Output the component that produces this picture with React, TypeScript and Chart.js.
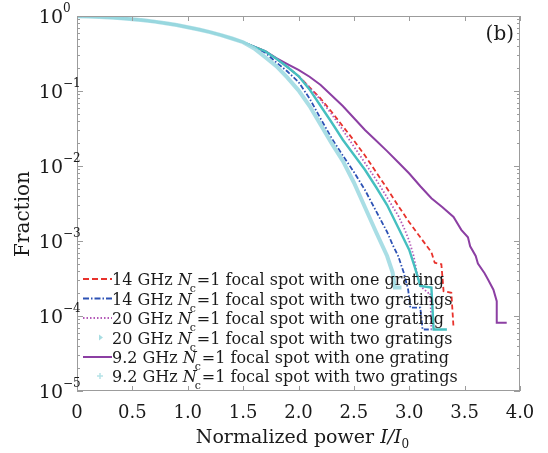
import React, { useEffect, useRef } from "react";
import { Chart, registerables } from "chart.js";
Chart.register(...registerables);

// ---- data (fraction vs normalized power) ----
const commonX = [0, 0.1, 0.2, 0.3, 0.4, 0.5, 0.6, 0.7, 0.8, 0.9, 1.0, 1.1, 1.2, 1.3, 1.4, 1.5];
const commonY = [0.989, 0.984, 0.973, 0.955, 0.933, 0.908, 0.879, 0.841, 0.8, 0.759, 0.708, 0.661, 0.61, 0.556, 0.501, 0.447];

const red14OneX = [1.6, 1.7, 1.8, 1.9, 2.0, 2.1, 2.2, 2.3, 2.4, 2.5, 2.6, 2.7, 2.8, 2.9, 3.0, 3.1, 3.15, 3.2, 3.23, 3.29, 3.31, 3.38, 3.4];
const red14OneY = [0.389, 0.339, 0.269, 0.209, 0.158, 0.112, 0.0794, 0.0525, 0.0339, 0.0219, 0.0138, 0.00832, 0.00501, 0.00295, 0.00178, 0.00112, 0.000891, 0.000708, 0.000513, 0.00049, 0.000214, 0.000204, 0.0000692];

const blue14TwoX = [1.6, 1.7, 1.8, 1.9, 2.0, 2.1, 2.2, 2.3, 2.4, 2.5, 2.6, 2.7, 2.8, 2.85, 2.9, 2.95, 2.99, 3.01, 3.1, 3.12, 3.2];
const blue14TwoY = [0.389, 0.324, 0.24, 0.182, 0.132, 0.0794, 0.0427, 0.0234, 0.0138, 0.00832, 0.00479, 0.00251, 0.00132, 0.000891, 0.000631, 0.00038, 0.000224, 0.000129, 0.000129, 0.0000661, 0.0000661];

const mag20OneX = [1.6, 1.7, 1.8, 1.9, 2.0, 2.1, 2.2, 2.3, 2.4, 2.5, 2.6, 2.7, 2.8, 2.9, 2.96, 3.0, 3.04, 3.07, 3.1, 3.17, 3.19, 3.2];
const mag20OneY = [0.389, 0.339, 0.269, 0.209, 0.158, 0.112, 0.0759, 0.049, 0.0302, 0.0182, 0.011, 0.00661, 0.0038, 0.00219, 0.00141, 0.001, 0.000631, 0.000372, 0.000251, 0.000204, 0.000204, 0.0000661];

const teal20TwoX = [1.6, 1.7, 1.8, 1.9, 2.0, 2.1, 2.2, 2.3, 2.4, 2.5, 2.6, 2.7, 2.8, 2.9, 3.0, 3.05, 3.1, 3.2, 3.22, 3.34];
const teal20TwoY = [0.389, 0.339, 0.269, 0.209, 0.158, 0.105, 0.0631, 0.038, 0.0224, 0.0141, 0.00891, 0.00525, 0.00302, 0.00151, 0.000759, 0.000447, 0.000251, 0.00024, 0.0000661, 0.0000661];

const purple92OneX = [1.6, 1.7, 1.8, 1.9, 2.0, 2.1, 2.2, 2.3, 2.4, 2.5, 2.6, 2.7, 2.8, 2.9, 3.0, 3.1, 3.2, 3.3, 3.4, 3.47, 3.53, 3.55, 3.6, 3.62, 3.68, 3.71, 3.76, 3.79, 3.79, 3.88];
const purple92OneY = [0.389, 0.339, 0.275, 0.229, 0.191, 0.155, 0.12, 0.0871, 0.0631, 0.0437, 0.0302, 0.0219, 0.0158, 0.0112, 0.00794, 0.00537, 0.00372, 0.00282, 0.00209, 0.00141, 0.00112, 0.000851, 0.000631, 0.000501, 0.000372, 0.000309, 0.000224, 0.000158, 0.0000813, 0.0000813];

const cyan92TwoX = [1.6, 1.7, 1.8, 1.9, 2.0, 2.1, 2.2, 2.3, 2.4, 2.5, 2.6, 2.7, 2.8, 2.85, 2.87, 2.93];
const cyan92TwoY = [0.37, 0.282, 0.214, 0.151, 0.102, 0.0631, 0.0355, 0.02, 0.0117, 0.00603, 0.00282, 0.00132, 0.000631, 0.00038, 0.00024, 0.00024];

const xTickValues = [0, 0.5, 1.0, 1.5, 2.0, 2.5, 3.0, 3.5, 4.0];
const xTickLabels = ["0", "0.5", "1.0", "1.5", "2.0", "2.5", "3.0", "3.5", "4.0"];
const yTickExponents = [0, -1, -2, -3, -4, -5];

const legendLabels = [
  ["14 GHz ", " =1 focal spot with one grating"],
  ["14 GHz ", " =1 focal spot with two gratings"],
  ["20 GHz ", " =1 focal spot with one grating"],
  ["20 GHz ", " =1 focal spot with two gratings"],
  ["9.2 GHz ", " =1 focal spot with one grating"],
  ["9.2 GHz ", " =1 focal spot with two gratings"],
];

const SERIF = '"DejaVu Serif", "Liberation Serif", serif';

function pts(xs: number[], ys: number[]) {
  const X = [...commonX, ...xs];
  const Y = [...commonY, ...ys];
  return X.map((x, i) => ({ x, y: Y[i] }));
}

const decorPlugin = {
  id: "decor",
  afterDatasetsDraw(chart: any) {
    const ctx = chart.ctx as CanvasRenderingContext2D;
    const xs = chart.scales.x;
    const ys = chart.scales.y;
    const a = chart.chartArea;
    ctx.save();
    // frame
    ctx.strokeStyle = "#9c9c9c";
    ctx.lineWidth = 1;
    ctx.strokeRect(a.left + 0.5, a.top + 0.5, a.right - a.left - 1, a.bottom - a.top - 1);
    // x ticks
    ctx.beginPath();
    for (const v of xTickValues) {
      const px = Math.round(xs.getPixelForValue(v)) + 0.5;
      ctx.moveTo(px, a.bottom);
      ctx.lineTo(px, a.bottom - 5);
      ctx.moveTo(px, a.top);
      ctx.lineTo(px, a.top + 5);
    }
    // y ticks
    for (let e = 0; e > -5; e--) {
      for (let m = 1; m <= 9; m++) {
        const val = m * Math.pow(10, e - 1);
        const py = Math.round(ys.getPixelForValue(val)) + 0.5;
        const len = m === 1 ? 6 : 3;
        ctx.moveTo(a.left, py);
        ctx.lineTo(a.left + len, py);
        ctx.moveTo(a.right, py);
        ctx.lineTo(a.right - len, py);
      }
    }
    ctx.stroke();

    ctx.fillStyle = "#1a1a1a";
    // x tick labels
    ctx.font = `18px ${SERIF}`;
    ctx.textAlign = "center";
    ctx.textBaseline = "middle";
    xTickValues.forEach((v, i) => {
      ctx.fillText(xTickLabels[i], xs.getPixelForValue(v), a.bottom + 22);
    });
    // y tick labels 10^e
    for (const e of yTickExponents) {
      const py = ys.getPixelForValue(Math.pow(10, e));
      ctx.font = `19px ${SERIF}`;
      ctx.textAlign = "right";
      ctx.textBaseline = "middle";
      ctx.fillText("10", a.left - 14, py + 2);
      ctx.font = `12px ${SERIF}`;
      ctx.textAlign = "left";
      ctx.fillText(e === 0 ? "0" : "\u2212" + String(-e), a.left - 14, py - 7);
    }
    // y title
    ctx.save();
    ctx.translate(24, 214);
    ctx.rotate(-Math.PI / 2);
    ctx.font = `20px ${SERIF}`;
    ctx.textAlign = "center";
    ctx.textBaseline = "middle";
    ctx.fillText("Fraction", 0, 0);
    ctx.restore();
    // x title
    {
      const y = 443;
      const f1 = `19px ${SERIF}`;
      const f2 = `italic 19px ${SERIF}`;
      const f3 = `12px ${SERIF}`;
      ctx.font = f1;
      const w1 = ctx.measureText("Normalized power ").width;
      ctx.font = f2;
      const w2 = ctx.measureText("I/I").width;
      ctx.font = f3;
      const w3 = ctx.measureText("0").width;
      let x = (a.left + a.right) / 2 + 4 - (w1 + w2 + w3) / 2;
      ctx.textAlign = "left";
      ctx.textBaseline = "alphabetic";
      ctx.font = f1;
      ctx.fillText("Normalized power ", x, y);
      x += w1;
      ctx.font = f2;
      ctx.fillText("I/I", x, y);
      x += w2;
      ctx.font = f3;
      ctx.fillText("0", x, y + 5);
    }
    // (b)
    ctx.font = `20px ${SERIF}`;
    ctx.textAlign = "right";
    ctx.textBaseline = "middle";
    ctx.fillText("(b)", a.right - 6, 35);

    // legend
    const rowY = [279, 298.5, 318, 337.5, 357, 376];
    const x0 = 83;
    const x1 = 112;
    const styles = [
      { color: "#e8322c", dash: [6, 3], width: 1.8, kind: "line" },
      { color: "#2d52b5", dash: [6, 2, 1.5, 2], width: 1.8, kind: "line" },
      { color: "#b45ab8", dash: [1.5, 2], width: 1.8, kind: "line" },
      { color: "#a8dde2", dash: [], width: 1.5, kind: "tri" },
      { color: "#8c3fa3", dash: [], width: 2, kind: "line" },
      { color: "#b6e3e8", dash: [], width: 1.5, kind: "plus" },
    ];
    styles.forEach((s, i) => {
      const y = rowY[i];
      ctx.save();
      ctx.strokeStyle = s.color;
      ctx.fillStyle = s.color;
      ctx.lineWidth = s.width;
      ctx.setLineDash(s.dash);
      if (s.kind === "line") {
        ctx.beginPath();
        ctx.moveTo(x0, y);
        ctx.lineTo(x1, y);
        ctx.stroke();
      } else if (s.kind === "tri") {
        ctx.beginPath();
        ctx.moveTo(99, y - 3);
        ctx.lineTo(103, y);
        ctx.lineTo(99, y + 3);
        ctx.closePath();
        ctx.fill();
      } else {
        ctx.beginPath();
        ctx.moveTo(97, y);
        ctx.lineTo(103, y);
        ctx.moveTo(100, y - 3);
        ctx.lineTo(100, y + 3);
        ctx.stroke();
      }
      ctx.restore();
      // text
      const [pre, post] = legendLabels[i];
      const fN = `16px ${SERIF}`;
      const fI = `italic 16px ${SERIF}`;
      const fS = `11px ${SERIF}`;
      let x = x1;
      const base = y + 6;
      ctx.fillStyle = "#1a1a1a";
      ctx.textAlign = "left";
      ctx.textBaseline = "alphabetic";
      ctx.font = fN;
      ctx.fillText(pre, x, base);
      x += ctx.measureText(pre).width;
      ctx.font = fI;
      ctx.fillText("N", x, base);
      const wN = ctx.measureText("N").width;
      ctx.font = fS;
      ctx.fillText("c", x + wN - 2, base + 7);
      x += wN;
      ctx.font = fN;
      ctx.fillText(post, x, base);
    });
    ctx.restore();
  },
};

export default function App() {
  const ref = useRef<HTMLCanvasElement | null>(null);
  useEffect(() => {
    if (!ref.current) return;
    const chart = new Chart(ref.current, {
      type: "scatter",
      data: {
        datasets: [
          { label: "9.2 GHz two", data: pts(cyan92TwoX, cyan92TwoY), borderColor: "rgba(160,218,226,0.9)", borderWidth: 4, showLine: true, pointRadius: 0, tension: 0 },
          { label: "20 GHz two", data: pts(teal20TwoX, teal20TwoY), borderColor: "#45bfc0", borderWidth: 2.4, showLine: true, pointRadius: 0, tension: 0 },
          { label: "14 GHz two", data: pts(blue14TwoX, blue14TwoY), borderColor: "#2d52b5", borderWidth: 1.8, borderDash: [5, 2, 1.5, 2], showLine: true, pointRadius: 0, tension: 0 },
          { label: "20 GHz one", data: pts(mag20OneX, mag20OneY), borderColor: "#b45ab8", borderWidth: 1.8, borderDash: [1.5, 2], showLine: true, pointRadius: 0, tension: 0 },
          { label: "14 GHz one", data: pts(red14OneX, red14OneY), borderColor: "#e8322c", borderWidth: 1.8, borderDash: [5, 3], showLine: true, pointRadius: 0, tension: 0 },
          { label: "9.2 GHz one", data: pts(purple92OneX, purple92OneY), borderColor: "#8c3fa3", borderWidth: 2, showLine: true, pointRadius: 0, tension: 0 },
        ],
      },
      options: {
        responsive: false,
        animation: false,
        devicePixelRatio: 1,
        layout: { padding: { left: 77, right: 28, top: 16, bottom: 62 } },
        plugins: { legend: { display: false }, tooltip: { enabled: false } },
        scales: {
          x: { type: "linear", min: 0, max: 4, display: false },
          y: { type: "logarithmic", min: 1e-5, max: 1, display: false },
        },
      },
      plugins: [decorPlugin],
    });
    return () => chart.destroy();
  }, []);
  return (
    <div style={{ position: "fixed", left: 0, top: 0, width: 548, height: 453, background: "#fff" }}>
      <canvas ref={ref} width={548} height={453} style={{ display: "block" }} />
    </div>
  );
}
